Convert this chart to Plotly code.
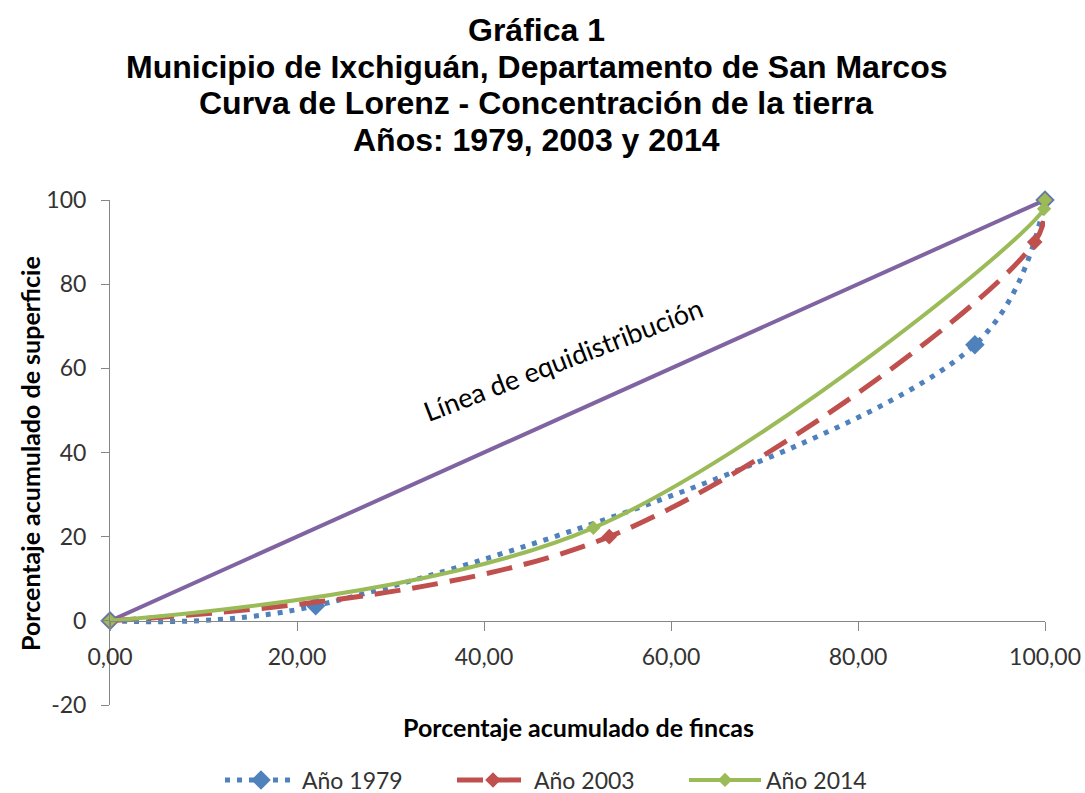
import plotly.graph_objects as go

# ---- data ----
x_1979 = [0, 22.0, 92.5, 100]
y_1979 = [0, 3.6, 65.6, 100]
x_2003 = [0, 53.4, 98.9, 100]
y_2003 = [0, 20.0, 90.0, 100]
x_2014 = [0, 51.7, 99.9, 100]
y_2014 = [0, 22.1, 97.9, 100]
x_equi = [0, 100]
y_equi = [0, 100]

x_ticks = [0, 20, 40, 60, 80, 100]
x_ticktext = ["0,00", "20,00", "40,00", "60,00", "80,00", "100,00"]
y_ticks = [-20, 0, 20, 40, 60, 80, 100]
y_ticktext = ["-20", "0", "20", "40", "60", "80", "100"]

title_lines = ["Gráfica 1",
               "Municipio de Ixchiguán, Departamento de San Marcos",
               "Curva de Lorenz - Concentración de la tierra",
               "Años: 1979, 2003 y 2014"]

BLUE = "#4F81BD"
RED = "#C0504D"
GREEN = "#9BBB59"
PURPLE = "#8064A2"
BODY_FONT = "Lato"
W, H = 1085, 793
ML, MR, MT, MB = 110, 40, 200, 88
PW, PH = W - ML - MR, H - MT - MB


def px_x(p):  # pixel x -> paper x
    return (p - ML) / PW


def px_y(p):  # pixel y -> paper y
    return (H - MB - p) / PH


fig = go.Figure()
fig.add_trace(go.Scatter(x=x_equi, y=y_equi, mode="lines", showlegend=False,
                         line=dict(color=PURPLE, width=4), cliponaxis=False))
fig.add_trace(go.Scatter(x=x_1979, y=y_1979, mode="lines+markers", name="Año 1979",
                         line=dict(color=BLUE, width=5, dash="5px,7px", shape="spline", smoothing=1),
                         marker=dict(symbol="diamond", size=15, color=BLUE), cliponaxis=False))
fig.add_trace(go.Scatter(x=x_2003, y=y_2003, mode="lines+markers", name="Año 2003",
                         line=dict(color=RED, width=5, dash="26px,12px", shape="spline", smoothing=1),
                         marker=dict(symbol="diamond", size=12, color=RED), cliponaxis=False))
fig.add_trace(go.Scatter(x=x_2014, y=y_2014, mode="lines+markers", name="Año 2014",
                         line=dict(color=GREEN, width=4, shape="spline", smoothing=1),
                         marker=dict(symbol="diamond", size=11, color=GREEN), cliponaxis=False))

title_y = [30, 67, 103, 140]
annotations = [
    dict(text=t, xref="paper", yref="paper", x=px_x(536), y=px_y(cy),
         xanchor="center", yanchor="middle", showarrow=False,
         font=dict(family="Liberation Sans", size=32, color="black", weight="bold"))
    for t, cy in zip(title_lines, title_y)
]
annotations += [
    dict(text="Porcentaje acumulado de fincas", xref="paper", yref="paper",
         x=px_x(578), y=px_y(727), xanchor="center", yanchor="middle",
         showarrow=False, font=dict(family=BODY_FONT, size=25, color="black", weight="bold")),
    dict(text="Porcentaje acumulado de superficie", xref="paper", yref="paper",
         x=px_x(30), y=px_y(454), xanchor="center", yanchor="middle",
         textangle=-90, showarrow=False,
         font=dict(family=BODY_FONT, size=25, color="black", weight="bold")),
    dict(text="Línea de equidistribución", x=48.4, y=62.0, xref="x", yref="y",
         textangle=-21, showarrow=False,
         font=dict(family=BODY_FONT, size=27, color="black")),
]

fig.update_layout(
    width=W, height=H,
    paper_bgcolor="white", plot_bgcolor="white",
    margin=dict(l=ML, r=MR, t=MT, b=MB, autoexpand=False),
    xaxis=dict(range=[0, 100], tickvals=x_ticks, ticktext=x_ticktext,
               showgrid=False, zeroline=False, showline=True, linecolor="#868686", linewidth=1,
               ticks="outside", ticklen=9, tickcolor="#868686", ticklabelstandoff=7,
               anchor="free", position=20 / 120, automargin=False,
               tickfont=dict(family=BODY_FONT, size=23, color="#333333")),
    yaxis=dict(range=[-20, 100], tickvals=y_ticks, ticktext=y_ticktext,
               showgrid=False, zeroline=False, showline=True, linecolor="#868686", linewidth=1,
               ticks="outside", ticklen=8, tickcolor="#868686", ticklabelstandoff=10,
               automargin=False,
               tickfont=dict(family=BODY_FONT, size=23, color="#333333")),
    legend=dict(orientation="h", x=220 / W, xref="container", xanchor="left",
                y=(H - 780) / H, yref="container", yanchor="middle",
                font=dict(family=BODY_FONT, size=23, color="#333333"),
                itemwidth=72, entrywidth=145, traceorder="normal"),
    annotations=annotations,
)

fig.write_html("out.html", config={"displayModeBar": False},
               post_script="document.body.style.margin='0px';")
